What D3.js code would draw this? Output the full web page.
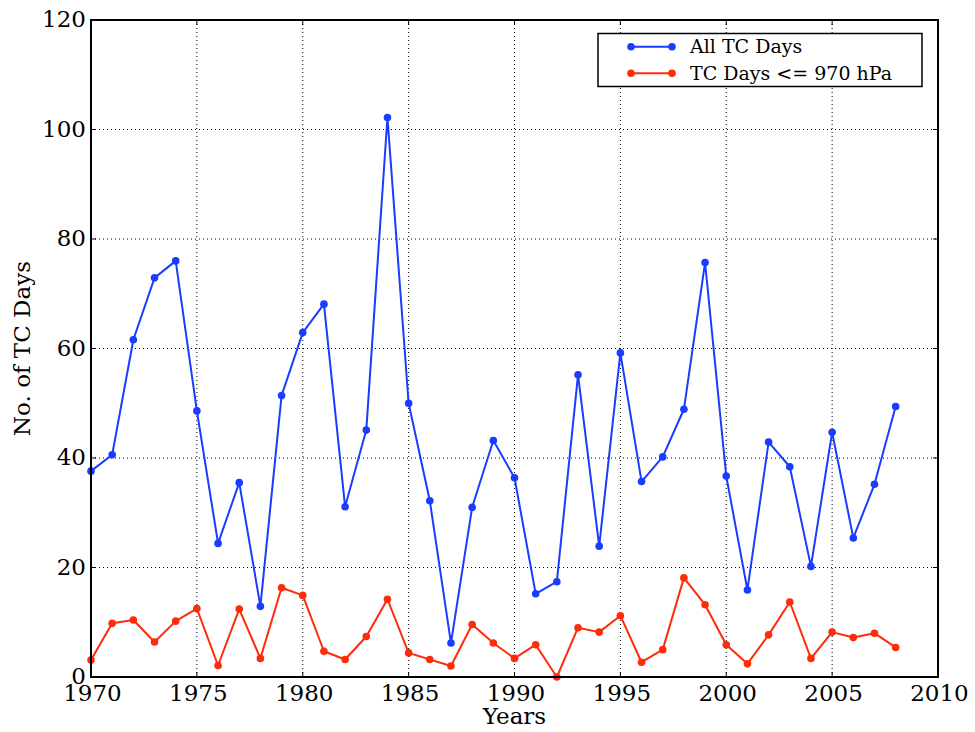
<!DOCTYPE html>
<html>
<head>
<meta charset="utf-8">
<script src="https://cdn.jsdelivr.net/npm/d3@7"></script>
<style>
  html, body { margin: 0; padding: 0; background: #fff; }
  svg { display: block; }
  text { font-family: "DejaVu Serif", "Liberation Serif", serif; fill: #000; }
</style>
</head>
<body>
<svg id="chart" width="975" height="732"></svg>
<script>
// Annual tropical cyclone days
const years = d3.range(1970, 2009);
const allTcDays = [
  37.6, 40.6, 61.6, 72.9, 76.0, 48.6, 24.4, 35.5, 12.9, 51.4,
  62.9, 68.1, 31.1, 45.1, 102.2, 50.0, 32.2, 6.2, 31.0, 43.2,
  36.4, 15.2, 17.4, 55.2, 23.9, 59.2, 35.7, 40.2, 48.9, 75.7,
  36.7, 15.9, 42.9, 38.4, 20.2, 44.7, 25.4, 35.2, 49.4
];
const strongTcDays = [
  3.1, 9.8, 10.4, 6.4, 10.2, 12.5, 2.1, 12.4, 3.4, 16.3,
  14.9, 4.7, 3.2, 7.4, 14.2, 4.4, 3.2, 2.0, 9.6, 6.2,
  3.4, 5.9, 0.0, 9.0, 8.2, 11.2, 2.7, 5.0, 18.1, 13.2,
  5.9, 2.4, 7.7, 13.7, 3.4, 8.2, 7.2, 8.0, 5.4
];
const xTicks = [1970, 1975, 1980, 1985, 1990, 1995, 2000, 2005, 2010];
const yTicks = [0, 20, 40, 60, 80, 100, 120];
const seriesNames = ["All TC Days", "TC Days <= 970 hPa"];
const seriesColors = ["#1a3cff", "#ff2b0a"];

const svg = d3.select("#chart");
const margin = { left: 91, top: 20, right: 37, bottom: 55 };
const W = 975, H = 732;
const x = d3.scaleLinear().domain([1970, 2010]).range([margin.left, W - margin.right]);
const y = d3.scaleLinear().domain([0, 120]).range([H - margin.bottom, margin.top]);

const plot = svg.append("g");

// dotted grid
plot.append("g").selectAll("line").data(xTicks.slice(1, -1)).join("line")
  .attr("x1", d => x(d)).attr("x2", d => x(d))
  .attr("y1", y(0)).attr("y2", y(120))
  .attr("stroke", "#000").attr("stroke-width", 1).attr("stroke-dasharray", "1,3");
plot.append("g").selectAll("line").data(yTicks.slice(1, -1)).join("line")
  .attr("x1", x(1970)).attr("x2", x(2010))
  .attr("y1", d => y(d)).attr("y2", d => y(d))
  .attr("stroke", "#000").attr("stroke-width", 1).attr("stroke-dasharray", "1,3");

// inward ticks on all four sides
const tickLen = 5;
const tickG = plot.append("g").attr("stroke", "#000").attr("stroke-width", 1);
xTicks.forEach(t => {
  tickG.append("line").attr("x1", x(t)).attr("x2", x(t)).attr("y1", y(0)).attr("y2", y(0) - tickLen);
  tickG.append("line").attr("x1", x(t)).attr("x2", x(t)).attr("y1", y(120)).attr("y2", y(120) + tickLen);
});
yTicks.forEach(t => {
  tickG.append("line").attr("x1", x(1970)).attr("x2", x(1970) + tickLen).attr("y1", y(t)).attr("y2", y(t));
  tickG.append("line").attr("x1", x(2010)).attr("x2", x(2010) - tickLen).attr("y1", y(t)).attr("y2", y(t));
});

// series
const line = d3.line().x((d, i) => x(years[i])).y(d => y(d));
[allTcDays, strongTcDays].forEach((vals, k) => {
  plot.append("path").datum(vals)
    .attr("d", line).attr("fill", "none")
    .attr("stroke", seriesColors[k]).attr("stroke-width", 2)
    .attr("stroke-linejoin", "round");
  plot.append("g").selectAll("circle").data(vals).join("circle")
    .attr("cx", (d, i) => x(years[i])).attr("cy", d => y(d))
    .attr("r", 3.8).attr("fill", seriesColors[k]);
});

// frame
plot.append("rect")
  .attr("x", x(1970)).attr("y", y(120))
  .attr("width", x(2010) - x(1970)).attr("height", y(0) - y(120))
  .attr("fill", "none").attr("stroke", "#000").attr("stroke-width", 2);

// tick labels
svg.append("g").selectAll("text").data(xTicks).join("text")
  .attr("x", d => x(d) + 1.5).attr("y", y(0) + 23.5)
  .attr("text-anchor", "middle").attr("font-size", 23)
  .text(d => d);
svg.append("g").selectAll("text").data(yTicks).join("text")
  .attr("x", x(1970) - 5).attr("y", d => y(d) + 7)
  .attr("text-anchor", "end").attr("font-size", 23)
  .text(d => d);

// axis titles
svg.append("text")
  .attr("x", (x(1970) + x(2010)) / 2).attr("y", 724)
  .attr("text-anchor", "middle").attr("font-size", 23)
  .text("Years");
svg.append("text")
  .attr("transform", `translate(29.5,${(y(0) + y(120)) / 2}) rotate(-90)`)
  .attr("text-anchor", "middle").attr("font-size", 23)
  .text("No. of TC Days");

// legend
const lg = svg.append("g");
lg.append("rect")
  .attr("x", 598).attr("y", 33.5).attr("width", 324).attr("height", 53)
  .attr("fill", "#fff").attr("stroke", "#000").attr("stroke-width", 1.5);
seriesNames.forEach((name, k) => {
  const ly = 46.7 + k * 26.6;
  lg.append("line").attr("x1", 631).attr("x2", 672).attr("y1", ly).attr("y2", ly)
    .attr("stroke", seriesColors[k]).attr("stroke-width", 2);
  lg.append("circle").attr("cx", 631).attr("cy", ly).attr("r", 3.8).attr("fill", seriesColors[k]);
  lg.append("circle").attr("cx", 672).attr("cy", ly).attr("r", 3.8).attr("fill", seriesColors[k]);
  lg.append("text").attr("x", 690).attr("y", ly + 6.5).attr("font-size", 19).text(name);
});
</script>
</body>
</html>
